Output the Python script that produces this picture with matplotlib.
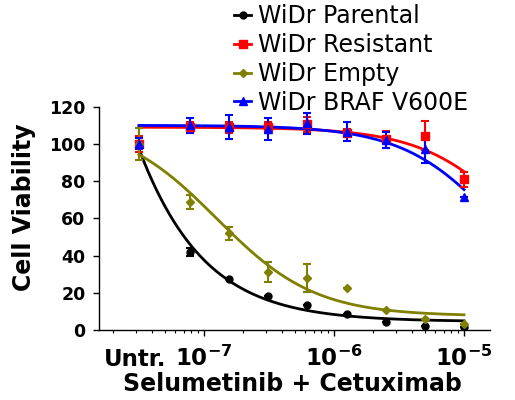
import numpy as np
import matplotlib
matplotlib.use("Agg")
import matplotlib.pyplot as plt
from matplotlib.ticker import LogLocator, NullFormatter, FixedLocator

# ---- data ----
untr_x = 3.16e-8  # plotting position of untreated
conc = [7.8125e-8, 1.5625e-7, 3.125e-7, 6.25e-7, 1.25e-6, 2.5e-6, 5e-6, 1e-5]
x_all = [untr_x] + conc

labels = ["WiDr Parental", "WiDr Resistant", "WiDr Empty", "WiDr BRAF V600E"]
colors = ["black", "#ff0000", "#808000", "#0000ff"]
markers = ["o", "s", "D", "^"]
msizes = [5, 5.5, 4, 6]

parental = [100, 42, 27.4, 18.5, 13.4, 8.6, 4.1, 2.3, 1.4]
parental_err = [1.5, 2, 0, 0, 0, 0, 0, 0, 0]
resistant = [100, 109, 109, 109, 110.5, 106, 102.5, 104.5, 81]
resistant_err = [4.5, 3, 3, 3, 4, 2, 4.6, 7.6, 4]
empty = [100, 68.8, 52, 31.4, 27.9, 22.6, 10.8, 5.9, 3]
empty_err = [8.6, 4, 3.6, 5.4, 7.3, 0, 0, 0, 0]
braf = [100, 110, 109, 108, 111, 106.6, 102, 97, 71.3]
braf_err = [3, 4, 6.3, 5.8, 5.6, 5, 4.2, 7, 0]

series = [parental, resistant, empty, braf]
errors = [parental_err, resistant_err, empty_err, braf_err]

# fitted 4PL parameters (top, bottom, logIC50, hill)
fits = [
    (1000, 4.5, -8.54, 0.95),
    (109, 0.0, -4.52, 1.15),
    (112, 7.5, -6.90, 1.15),
    (110, 0.0, -4.71, 1.17),
]

yticks = [0, 20, 40, 60, 80, 100, 120]
xticks = [1e-7, 1e-6, 1e-5]
xticklabels = [r"$\mathbf{10^{-7}}$", r"$\mathbf{10^{-6}}$", r"$\mathbf{10^{-5}}$"]

# ---- figure ----
fig = plt.figure(figsize=(5.15, 4.0), dpi=100)
ax_w = (490 - 99.3) / 515
ax_h = (330 - 106.7) / 400
ax = fig.add_axes([99.3 / 515, 70 / 400, ax_w, ax_h])

lx = np.linspace(np.log10(untr_x), np.log10(1e-5), 300)
handles = []
for s, e, c, m, ms, lab, (T, B, lc, h) in zip(series, errors, colors, markers, msizes, labels, fits):
    yfit = B + (T - B) / (1 + 10 ** ((lx - lc) * h))
    ax.plot(10 ** lx, yfit, color=c, lw=2.0, zorder=2)
    ax.errorbar(x_all, s, yerr=e, fmt="none", ecolor=c, elinewidth=1.5, capsize=3, capthick=1.5, zorder=3)
    ax.plot(x_all, s, linestyle="none", marker=m, color=c, ms=ms, zorder=4)
    handles.append(plt.Line2D([], [], color=c, lw=2, marker=m, ms=ms))

ax.set_xscale("log")
ax.set_xlim(10 ** -7.805, 10 ** -4.8)
ax.set_ylim(0, 120)

for sp in ["top", "right"]:
    ax.spines[sp].set_visible(False)
for sp in ["left", "bottom"]:
    ax.spines[sp].set_linewidth(1.0)

ax.set_yticks(yticks)
ax.set_yticklabels([str(v) for v in yticks], fontsize=12.5, fontweight="bold", family="DejaVu Sans")
ax.xaxis.set_major_locator(FixedLocator(xticks))
ax.set_xticklabels(xticklabels, fontsize=16.5)
ax.xaxis.set_minor_locator(LogLocator(base=10, subs=np.arange(2, 10)))
ax.xaxis.set_minor_formatter(NullFormatter())
ax.tick_params(axis="both", which="major", length=4, width=1, direction="out")
ax.tick_params(axis="x", which="minor", length=2.5, width=0.8, direction="out")
ax.tick_params(axis="y", pad=6)
ax.tick_params(axis="x", pad=7.5)

# Untreated label
ax.annotate("Untr.", xy=(untr_x, 0), xycoords=("data", "axes fraction"),
            xytext=(-3, -25.8), textcoords="offset points", ha="center", va="baseline",
            fontsize=16.5, fontweight="bold", family="DejaVu Sans")

ax.set_xlabel("Selumetinib + Cetuximab", fontsize=17, fontweight="bold", family="DejaVu Sans")
ax.xaxis.set_label_coords((292.5 - 99.3) / 390.7, -(372 - 330) / 223.3)
fig.text(24 / 515, 1 - 207 / 400, "Cell Viability", rotation=90, ha="center", va="center",
         fontsize=17, fontweight="bold", family="DejaVu Sans")

fig.legend(handles, labels, loc="upper left", bbox_to_anchor=(232 / 515, 1 - 2 / 400),
           frameon=False, fontsize=17, handlelength=0.7, handletextpad=0.3,
           labelspacing=0.2, borderpad=0.1, borderaxespad=0)

fig.savefig("out.png", dpi=100)
